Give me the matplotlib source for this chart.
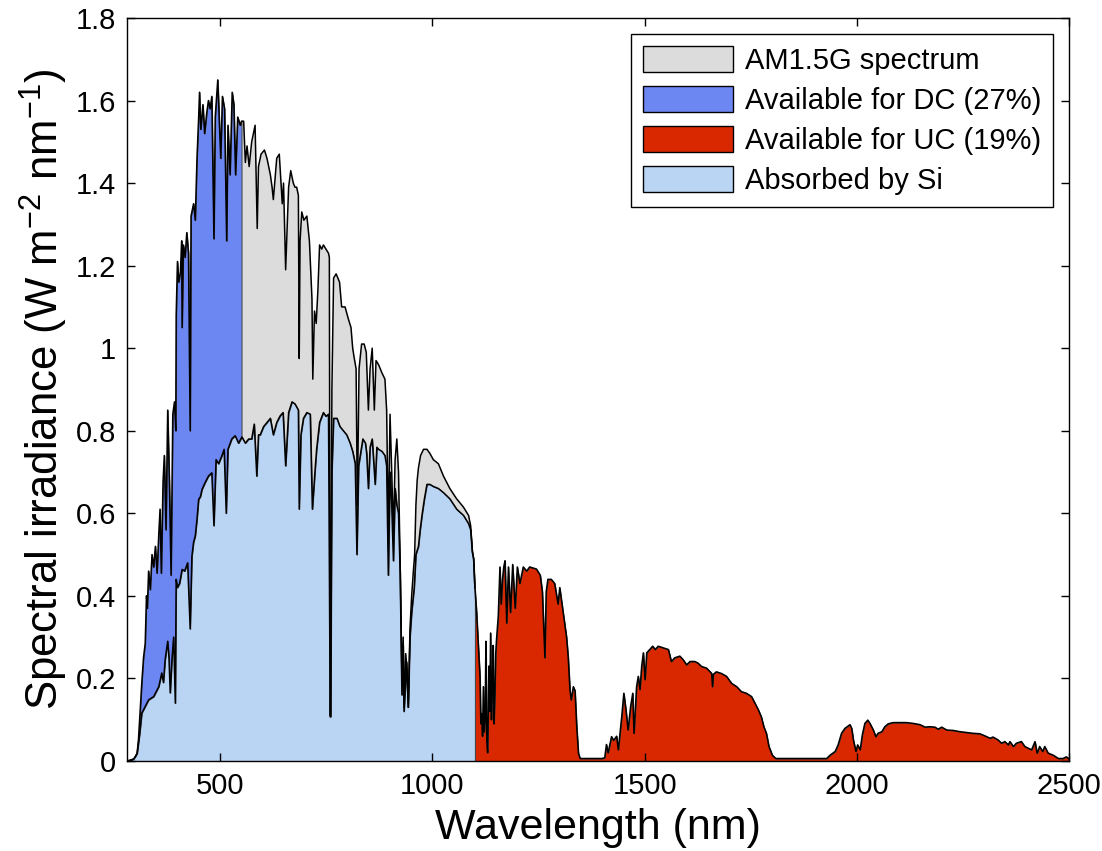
import numpy as np
import matplotlib
matplotlib.use("Agg")
import matplotlib.pyplot as plt
from matplotlib.patches import Patch

# AM1.5G spectrum (nm, W m-2 nm-1)
am_wl = [280, 290, 296, 300, 304, 307, 311, 315, 319, 323, 326, 328, 331, 335, 339, 343, 347, 351,
         355, 358, 361, 365, 368, 372, 376, 380, 384, 388, 392, 395, 396, 399, 402, 406, 409, 410,
         413, 417, 421, 425, 429, 431, 437, 441, 445, 449, 451, 454, 459, 463, 468, 472, 476, 480,
         485, 488, 494, 498, 501, 505, 510, 515, 518, 523, 528, 532, 536, 541, 547, 550, 555, 559,
         563, 568, 574, 582, 587, 590, 596, 604, 610, 618, 622, 625, 633, 639, 646, 649, 654, 661,
         666, 672, 676, 680, 684, 686, 688, 692, 697, 704, 710, 716, 718, 722, 726, 730, 734, 739,
         743, 749, 755, 757, 759, 760, 763, 767, 773, 781, 786, 794, 802, 808, 812, 815, 820, 823,
         827, 833, 839, 844, 849, 853, 858, 863, 867, 873, 881, 888, 892, 896, 900, 904, 908, 912,
         916, 920, 924, 928, 931, 933, 937, 940, 943, 947, 951, 955, 958, 961, 964, 967, 972, 979,
         987, 994, 1002, 1014, 1026, 1041, 1057, 1073, 1085, 1090, 1094, 1097, 1100, 1104, 1108,
         1112, 1114, 1116, 1118, 1120, 1122, 1124, 1126, 1128, 1130, 1133, 1135, 1137, 1139, 1141,
         1143, 1145, 1147, 1149, 1151, 1155, 1159, 1162, 1165, 1168, 1171, 1175, 1179, 1184, 1189,
         1195, 1200, 1206, 1214, 1222, 1229, 1245, 1254, 1259, 1265, 1268, 1272, 1280, 1288, 1296,
         1300, 1308, 1316, 1320, 1324, 1327, 1332, 1336, 1340, 1344, 1348, 1400, 1406, 1410, 1414,
         1422, 1427, 1434, 1438, 1446, 1451, 1456, 1461, 1467, 1472, 1475, 1481, 1485, 1489, 1493,
         1497, 1501, 1505, 1512, 1519, 1525, 1532, 1544, 1556, 1563, 1571, 1583, 1591, 1599, 1607,
         1618, 1626, 1634, 1646, 1658, 1660, 1662, 1669, 1681, 1693, 1705, 1717, 1728, 1740, 1752,
         1760, 1768, 1775, 1781, 1787, 1793, 1801, 1809, 1929, 1937, 1949, 1956, 1964, 1972, 1984,
         1988, 1992, 1998, 2002, 2008, 2013, 2019, 2026, 2031, 2039, 2045, 2050, 2059, 2066, 2074,
         2086, 2102, 2117, 2133, 2149, 2161, 2172, 2184, 2192, 2200, 2212, 2227, 2243, 2259, 2274,
         2290, 2306, 2314, 2321, 2333, 2341, 2349, 2357, 2361, 2369, 2376, 2388, 2396, 2404, 2412,
         2420, 2425, 2431, 2438, 2443, 2451, 2463, 2475, 2486, 2494, 2500]
am_irr = [0.0, 0.0, 0.005, 0.01, 0.02, 0.05, 0.12, 0.19, 0.25, 0.285, 0.40, 0.37, 0.46, 0.415, 0.50,
          0.47, 0.52, 0.455, 0.55, 0.61, 0.455, 0.675, 0.74, 0.56, 0.85, 0.675, 0.45, 0.84, 0.87, 0.80,
          1.08, 1.21, 1.16, 1.185, 1.26, 1.05, 1.25, 1.22, 1.28, 1.23, 0.80, 1.32, 1.35, 1.31, 1.46,
          1.56, 1.62, 1.53, 1.59, 1.52, 1.57, 1.60, 1.58, 1.61, 1.265, 1.56, 1.65, 1.54, 1.46, 1.61,
          1.58, 1.26, 1.54, 1.42, 1.62, 1.59, 1.42, 1.56, 1.54, 1.55, 1.55, 1.45, 1.49, 1.44, 1.50,
          1.54, 1.29, 1.44, 1.47, 1.48, 1.46, 1.42, 1.39, 1.36, 1.46, 1.47, 1.35, 1.40, 1.19, 1.39,
          1.43, 1.40, 1.39, 1.39, 1.37, 0.975, 1.26, 1.33, 1.31, 1.32, 1.26, 1.12, 0.925, 1.09, 1.06,
          1.14, 1.25, 1.24, 1.25, 1.24, 1.23, 1.22, 0.11, 0.11, 0.90, 1.17, 1.18, 1.16, 1.10, 1.10,
          1.07, 1.05, 1.00, 0.98, 0.95, 0.62, 0.95, 1.01, 1.01, 0.99, 0.85, 0.95, 1.00, 0.85, 0.97,
          0.96, 0.94, 0.925, 0.85, 0.55, 0.84, 0.70, 0.55, 0.73, 0.78, 0.70, 0.47, 0.20, 0.30, 0.13,
          0.26, 0.22, 0.13, 0.32, 0.40, 0.46, 0.50, 0.62, 0.68, 0.71, 0.74, 0.755, 0.755, 0.745, 0.73,
          0.72, 0.69, 0.66, 0.635, 0.615, 0.595, 0.57, 0.51, 0.49, 0.42, 0.36, 0.28,
          0.205, 0.09, 0.115, 0.06, 0.18, 0.07, 0.10, 0.29, 0.05, 0.02, 0.23, 0.12, 0.31, 0.10, 0.18,
          0.28, 0.09, 0.155, 0.26, 0.295, 0.35, 0.47, 0.38, 0.44, 0.47, 0.485, 0.334, 0.47, 0.36, 0.476,
          0.37, 0.47, 0.43, 0.47, 0.46, 0.47, 0.465, 0.45, 0.41, 0.25, 0.41, 0.44, 0.44, 0.43, 0.38,
          0.42, 0.36, 0.30, 0.25, 0.173, 0.148, 0.18, 0.17, 0.083, 0.019, 0.006, 0.006, 0.008, 0.04,
          0.02, 0.059, 0.05, 0.06, 0.027, 0.107, 0.164, 0.124, 0.075, 0.132, 0.164, 0.067, 0.18,
          0.205, 0.173, 0.229, 0.262, 0.197, 0.262, 0.27, 0.278, 0.27, 0.278, 0.274, 0.27, 0.241,
          0.25, 0.254, 0.245, 0.233, 0.241, 0.241, 0.237, 0.229, 0.225, 0.212, 0.18, 0.21, 0.216,
          0.212, 0.205, 0.188, 0.18, 0.168, 0.164, 0.156, 0.14, 0.124, 0.107, 0.083, 0.067, 0.035,
          0.014, 0.006, 0.006, 0.014, 0.023, 0.039, 0.067, 0.079, 0.088, 0.079, 0.051, 0.023, 0.039,
          0.027, 0.063, 0.091, 0.099, 0.091, 0.075, 0.059, 0.067, 0.071, 0.083, 0.090, 0.093, 0.093,
          0.093, 0.091, 0.088, 0.082, 0.083, 0.082, 0.077, 0.082, 0.075, 0.074, 0.071, 0.069, 0.067,
          0.066, 0.059, 0.055, 0.058, 0.051, 0.043, 0.047, 0.039, 0.047, 0.035, 0.043, 0.047, 0.035,
          0.031, 0.027, 0.047, 0.019, 0.035, 0.023, 0.035, 0.019, 0.014, 0.006, 0.006, 0.01, 0.005]

# part absorbed by Si
si_wl = [280, 296, 304, 310, 315, 323, 331, 343, 350, 355, 362, 366, 370, 376, 379, 382, 386, 390,
         394, 395, 396, 399, 404, 410, 416, 423, 429, 433, 437, 441, 445, 449, 453, 457, 464, 472,
         480, 485, 490, 496, 504, 509, 514, 518, 527, 535, 543, 551, 559, 567, 574, 580, 586, 590,
         594, 602, 610, 618, 625, 633, 641, 648, 654, 661, 669, 676, 684, 686, 690, 696, 704, 712,
         717, 723, 727, 734, 743, 749, 755, 759, 760, 763, 767, 775, 782, 790, 798, 806, 812, 818,
         822, 826, 836, 842, 845, 849, 853, 858, 865, 869, 873, 881, 888, 892, 896, 900, 904, 908,
         912, 916, 920, 924, 928, 931, 933, 939, 943, 947, 951, 957, 961, 967, 971, 976, 981, 987,
         994, 1002, 1014, 1026, 1041, 1057, 1073, 1085, 1090, 1094, 1097, 1100]
si_irr = [0.0, 0.005, 0.018, 0.066, 0.116, 0.132, 0.148, 0.156, 0.17, 0.18, 0.213, 0.19, 0.245,
          0.29, 0.25, 0.165, 0.245, 0.30, 0.14, 0.30, 0.44, 0.42, 0.43, 0.464, 0.46, 0.48, 0.32,
          0.495, 0.53, 0.545, 0.585, 0.634, 0.64, 0.658, 0.674, 0.69, 0.698, 0.57, 0.73, 0.72, 0.74,
          0.755, 0.60, 0.755, 0.78, 0.788, 0.77, 0.785, 0.77, 0.78, 0.78, 0.816, 0.69, 0.79, 0.79,
          0.81, 0.82, 0.83, 0.79, 0.82, 0.836, 0.844, 0.715, 0.844, 0.87, 0.865, 0.85, 0.61, 0.79,
          0.83, 0.844, 0.84, 0.61, 0.70, 0.755, 0.82, 0.844, 0.835, 0.84, 0.107, 0.107, 0.70, 0.83,
          0.83, 0.81, 0.80, 0.79, 0.77, 0.75, 0.72, 0.50, 0.715, 0.78, 0.77, 0.745, 0.66, 0.76, 0.78,
          0.67, 0.76, 0.755, 0.75, 0.74, 0.715, 0.45, 0.70, 0.62, 0.485, 0.66, 0.62, 0.60, 0.45,
          0.16, 0.28, 0.12, 0.24, 0.13, 0.30, 0.36, 0.42, 0.50, 0.52, 0.56, 0.60, 0.635, 0.67, 0.67,
          0.665, 0.66, 0.65, 0.635, 0.61, 0.595, 0.575, 0.56, 0.505, 0.49, 0.42]

dc_edge = 550
uc_edge = 1100

c_gray = '#dcdcdc'
c_dc = '#6d87f2'
c_uc = '#d92800'
c_si = '#bad4f4'

plt.rcParams['font.family'] = ['Liberation Sans', 'DejaVu Sans']
plt.rcParams['mathtext.fontset'] = 'custom'
plt.rcParams['mathtext.rm'] = 'Liberation Sans'
plt.rcParams['mathtext.default'] = 'regular'

am_wl = np.array(am_wl)
am_irr = np.array(am_irr)
si_wl = np.array(si_wl)
si_irr = np.array(si_irr)

fig = plt.figure(figsize=(11.02, 8.51), dpi=100)
ax = fig.add_axes([0.1152, 0.1058, 0.8548, 0.8731])

edge = '#404040'
ax.fill_between(am_wl, 0, am_irr, color=c_gray, lw=0)
m = am_wl <= dc_edge
ax.fill_between(am_wl[m], 0, am_irr[m], facecolor=c_dc, edgecolor=edge, lw=0.7)
m = am_wl >= uc_edge
ax.fill_between(am_wl[m], 0, am_irr[m], facecolor=c_uc, edgecolor=edge, lw=0.7)
ax.fill_between(si_wl, 0, si_irr, facecolor=c_si, edgecolor=edge, lw=0.7)

ax.plot(am_wl, am_irr, color='black', lw=1.1)
ax.plot(si_wl, si_irr, color='black', lw=1.1)

ax.set_xlim(280, 2500)
ax.set_ylim(0, 1.8)
ax.set_xticks([500, 1000, 1500, 2000, 2500])
ax.set_yticks([0, 0.2, 0.4, 0.6, 0.8, 1, 1.2, 1.4, 1.6, 1.8])
ax.set_yticklabels(['0', '0.2', '0.4', '0.6', '0.8', '1', '1.2', '1.4', '1.6', '1.8'])
ax.tick_params(direction='in', top=True, right=True, length=6, width=1, labelsize=21, pad=8)
for s in ax.spines.values():
    s.set_linewidth(1)

ax.set_xlabel('Wavelength (nm)', fontsize=31, labelpad=6)
ax.set_ylabel(r'Spectral irradiance (W m$^{-2}$ nm$^{-1}$)', fontsize=31.5, labelpad=4)

handles = [Patch(facecolor=c_gray, edgecolor='black', lw=1),
           Patch(facecolor=c_dc, edgecolor='black', lw=1),
           Patch(facecolor=c_uc, edgecolor='black', lw=1),
           Patch(facecolor=c_si, edgecolor='black', lw=1)]
labels = ['AM1.5G spectrum', 'Available for DC (27%)', 'Available for UC (19%)', 'Absorbed by Si']
leg = ax.legend(handles, labels, loc='upper right', fontsize=21, fancybox=False, framealpha=1,
                edgecolor='black', handlelength=3.1, handleheight=1.0, handletextpad=0.4,
                labelspacing=0.38, borderpad=0.4, borderaxespad=0.55)
leg.get_frame().set_linewidth(1)

fig.savefig('out.png', dpi=100)
